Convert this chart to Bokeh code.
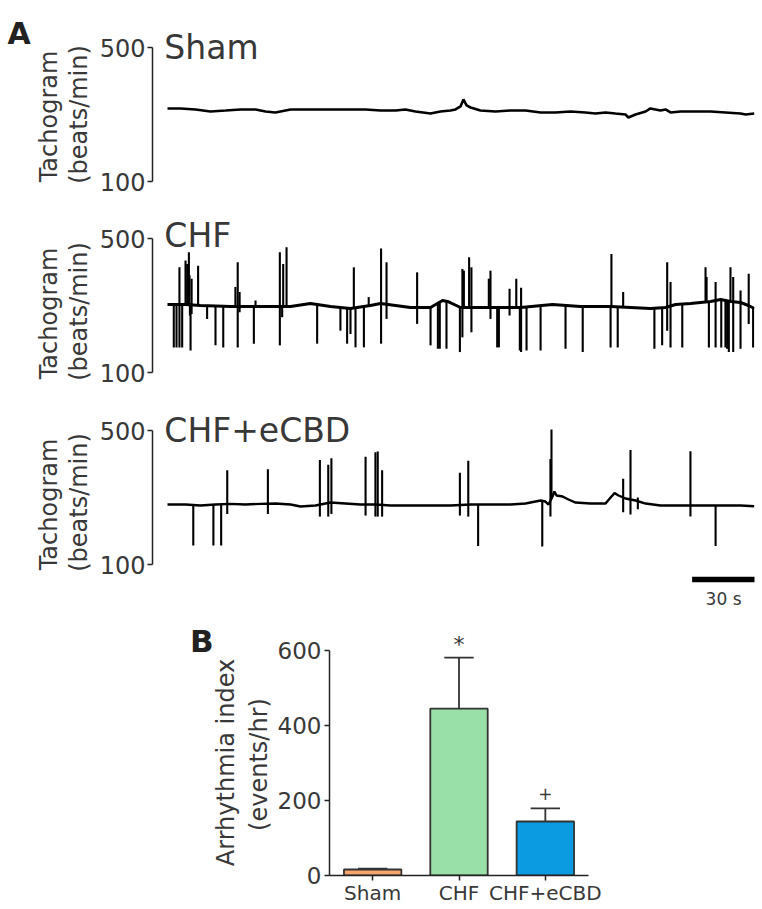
import numpy as np
from bokeh.plotting import figure
from bokeh.layouts import column, row
from bokeh.models import Range1d, FixedTicker
from bokeh.embed import file_html
from bokeh.resources import INLINE
from bokeh.core.properties import value

FONT = "DejaVu Sans"
TXT = "#383838"
AX = "#222222"

# ---------------- data: tachograms (time in s, heart rate in beats/min) ----------------
sham_t = [0, 6.2, 13.4, 20.5, 27.7, 34.8, 42, 46.8, 51.5, 58.7, 65.9, 73, 80.2, 87.3, 94.5,
          101.6, 108.8, 113.5, 118.3, 125.5, 130.2, 135, 137.4, 139.8, 141.2, 142.7, 144.6,
          149.3, 156.5, 163.6, 170.8, 178, 185.1, 192.3, 199.4, 204.2, 209, 213.7, 218.5,
          219.9, 223.3, 228.1, 230.4, 235.2, 237.6, 240, 244.8, 251.9, 259.1, 266.2, 273.4,
          275.8, 280]
sham_v = [318, 318, 315, 309, 312, 315, 315, 309, 306, 315, 315, 315, 315, 315, 315,
          312, 312, 315, 309, 303, 309, 312, 315, 324, 345, 327, 321,
          312, 309, 312, 312, 306, 306, 309, 306, 303, 306, 303, 300,
          291, 300, 309, 318, 312, 315, 306, 309, 309, 309, 306, 303,
          300, 303]

chf_t = [0, 8.6, 15.7, 30.1, 44.4, 58.7, 68.2, 77.8, 87.3, 96.8, 101.6, 108.8, 115.9, 125.5,
         131.2, 133.6, 139.8, 149.3, 158.9, 168.4, 183.7, 197, 211.4, 220.9, 230.4, 237.6,
         242.4, 249.5, 254.3, 259.1, 263.9, 268.6, 273.4, 277.2, 280]
chf_v = [303, 303, 300, 297, 297, 297, 306, 297, 291, 300, 306, 300, 294, 294,
         315, 312, 294, 294, 294, 294, 303, 297, 297, 294, 291, 294,
         303, 306, 309, 312, 318, 312, 309, 300, 291]
chf_spike_t = [3.0, 4.3, 5.7, 5.7, 7.0, 8.6, 9.4, 10.2, 10.5, 10.7, 11.0, 11.5, 11.5, 14.6,
               18.9, 22.9, 26.6, 32.4, 33.5, 33.5, 34.4, 34.4, 41.2, 42.0, 53.6, 53.6, 54.7,
               55.2, 56.8, 71.4, 82.5, 85.7, 87.3, 88.9, 89.7, 93.7, 96.0, 101.9, 101.9,
               104.5, 104.5, 119.1, 119.1, 125.5, 129.0, 129.9, 133.1, 139.5, 140.7, 140.7,
               141.4, 143.9, 145.0, 145.0, 153.3, 154.1, 154.1, 157.3, 158.1, 163.2, 163.2,
               166.4, 168.1, 168.7, 168.7, 171.3, 178.0, 189.9, 198.1, 211.4, 211.8, 214.8,
               217.4, 232.3, 236.0, 238.4, 238.4, 240.0, 240.0, 245.6, 256.7, 257.2, 258.3,
               261.5, 261.5, 264.2, 266.2, 267.0, 267.8, 268.6, 269.9, 269.9, 273.4, 273.4,
               277.3, 277.3, 279.4]
chf_spike_v = [175, 175, 414, 175, 175, 434, 424, 459, 390, 270, 166, 380, 275, 419,
               260, 181, 175, 355, 429, 175, 340, 280, 186, 315, 459, 181, 265,
               424, 474, 186, 225, 186, 215, 414, 175, 175, 325, 470, 186,
               429, 260, 399, 245, 181, 171, 171, 171, 161, 409, 205,
               404, 444, 414, 220, 380, 404, 260, 175, 175, 350, 270,
               380, 166, 353, 161, 166, 166, 171, 161, 175, 454, 175,
               340, 171, 181, 429, 225, 370, 175, 175, 414, 385, 175,
               370, 175, 175, 175, 171, 161, 414, 385, 161, 345, 171,
               395, 245, 175]

ecbd_t = [0, 8.6, 15.7, 22.9, 30.1, 37.2, 44.4, 51.5, 58.7, 63.5, 70.6, 77.8, 84.9, 92.1,
          99.2, 106.4, 115.9, 125.5, 135.0, 144.6, 154.1, 163.6, 170.8, 175.6, 178.0, 180.3,
          181.8, 183.7, 184.6, 185.6, 188.5, 191.3, 194.7, 201.8, 209.0, 211.4, 213.3, 215.2,
          218.5, 223.3, 228.1, 235.2, 244.8, 254.3, 263.9, 273.4, 280.0]
ecbd_v = [279, 279, 276, 279, 281, 279, 281, 282, 279, 273, 276, 285, 282, 279,
          279, 276, 276, 276, 276, 279, 279, 279, 282, 288, 291, 288,
          279, 303, 318, 306, 303, 294, 285, 282, 282, 300, 313, 306,
          297, 291, 282, 276, 276, 276, 276, 276, 274]
ecbd_spike_t = [12.3, 21.9, 25.6, 28.5, 28.5, 47.9, 47.9, 72.7, 72.7, 76.7, 76.7, 78.2, 78.2,
                94.5, 94.5, 99.2, 99.2, 100.3, 100.3, 102.4, 102.4, 139.5, 139.5, 143.5, 143.5,
                148.2, 178.8, 182.7, 182.7, 183.2, 217.4, 217.4, 220.9, 220.9, 224.4, 224.4,
                249.5, 249.5, 261.5]
ecbd_spike_v = [157, 157, 157, 381, 251, 384, 251, 412, 243, 398, 243, 417, 251,
                422, 246, 435, 243, 437, 243, 381, 243, 374, 246, 410, 243,
                155, 154, 415, 243, 503, 356, 256, 442, 249, 300, 265,
                438, 243, 155]

trace_names = ["Sham", "CHF", "CHF+eCBD"]
trace_ylabel = ["Tachogram", "(beats/min)"]
scalebar_seconds = 30
trace_ticks = [100, 500]

# ---------------- data: arrhythmia index ----------------
categories = ["Sham", "CHF", "CHF+eCBD"]
arr_mean = [16, 445, 144]
arr_sem_top = [18, 581, 179]
bar_colors = ["#F8A66E", "#99E0A8", "#0A9BE0"]
bar_marks = ["", "*", "+"]
bar_ticks = [0, 200, 400, 600]
bar_ylabel = ["Arrhythmia index", "(events/hr)"]

PX_PER_BPM = 134 / 400.0
LEFT_W = 95          # strip holding panel letter A and tachogram axis titles
LEFT2_W = 274        # strip holding panel letter B and bar-chart axis title
SPLIT = 610          # page row where the bar-chart part begins


def style_axis(ax, ticks, bounds, tick_size, standoff):
    ax.ticker = FixedTicker(ticks=ticks, minor_ticks=[])
    ax.bounds = bounds
    ax.axis_line_color = AX
    ax.axis_line_width = 1.5
    ax.major_tick_line_color = AX
    ax.major_tick_line_width = 1.5
    ax.major_tick_out = 5
    ax.major_tick_in = 0
    ax.minor_tick_line_color = None
    ax.major_label_text_font = FONT
    ax.major_label_text_font_size = tick_size
    ax.major_label_text_color = TXT
    ax.major_label_standoff = standoff


def blank_fig(w, h, xr, yr, bottom=0):
    p = figure(width=w, height=h, x_range=xr, y_range=yr, output_backend="svg",
               toolbar_location=None, title=None, x_axis_location=None, y_axis_location=None,
               min_border_left=0, min_border_right=0, min_border_top=0,
               min_border_bottom=bottom)
    p.outline_line_color = None
    p.grid.visible = False
    return p


def trace_fig(height, top_px, bottom_px, name, name_y, bt, bv, st, sv, lw):
    y_end = 500 + top_px / PX_PER_BPM
    y_start = 100 - bottom_px / PX_PER_BPM
    p = figure(width=758 - LEFT_W, height=height, x_range=Range1d(-7.157, 280.06),
               y_range=Range1d(y_start, y_end), output_backend="svg", toolbar_location=None,
               title=None, x_axis_location=None, min_border_left=152 - LEFT_W,
               min_border_right=4, min_border_top=0, min_border_bottom=0)
    p.outline_line_color = None
    p.grid.visible = False
    style_axis(p.yaxis[0], trace_ticks, (100, 500), "24px", 2)
    bt = np.asarray(bt, float)
    bv = np.asarray(bv, float)
    p.line(bt, bv, line_color="black", line_width=lw)
    if st:
        st = np.asarray(st, float)
        base = np.interp(st, bt, bv)
        p.segment(x0=st, y0=base, x1=st, y1=sv, line_color="black", line_width=2.1)
    p.text(x=[-1.5], y=[name_y], text=[name], text_font=value(FONT), text_font_size="33px",
           text_color=TXT, text_align="left", text_baseline="alphabetic")
    return p


p1 = trace_fig(199, 47, 18, trace_names[0], 500, sham_t, sham_v, [], [], 2.6)
p2 = trace_fig(191, 39, 18, trace_names[1], 509, chf_t, chf_v, chf_spike_t, chf_spike_v, 3.0)
p3 = trace_fig(SPLIT - 390, 40, SPLIT - 564, trace_names[2], 500, ecbd_t, ecbd_v,
               ecbd_spike_t, ecbd_spike_v, 2.4)
sb_end = 280.3
sb_y = 100 - 15 / PX_PER_BPM
p3.segment(x0=[sb_end - scalebar_seconds], x1=[sb_end], y0=[sb_y], y1=[sb_y],
           line_color="black", line_width=5.5, line_cap="butt")
p3.text(x=[sb_end - scalebar_seconds / 2], y=[100 - 34 / PX_PER_BPM],
        text=["%d s" % scalebar_seconds], text_font=value(FONT), text_font_size="17px",
        text_color=TXT, text_align="center", text_baseline="alphabetic")

# left strip (pixel coordinates of the page)
pl = blank_fig(LEFT_W, SPLIT, Range1d(0, LEFT_W), Range1d(SPLIT, 0))
pl.text(x=[7], y=[33], text=["A"], text_font=value(FONT), text_font_size="30px",
        text_font_style="bold", text_color="#222222", text_align="left",
        text_baseline="alphabetic")
lab_x = [48.5, 78.5] * 3
lab_y = [116, 114, 313, 311, 504, 502]
pl.text(x=lab_x, y=lab_y, text=trace_ylabel * 3, angle=np.pi / 2, text_font=value(FONT),
        text_font_size="24px", text_color=TXT, text_align="center", text_baseline="middle")

# ---------------- bar chart ----------------
PX_PER_UNIT = 225 / 600.0
centers = np.arange(len(categories)) + 0.5
pb = figure(width=758 - LEFT2_W, height=908 - SPLIT, x_range=Range1d(0, len(categories)),
            y_range=Range1d(0, (875 - SPLIT) / PX_PER_UNIT), output_backend="svg",
            toolbar_location=None, title=None, min_border_left=326 - LEFT2_W,
            min_border_right=758 - 588, min_border_top=0, min_border_bottom=33)
pb.outline_line_color = None
pb.grid.visible = False
style_axis(pb.yaxis[0], bar_ticks, (0, 600), "23px", 3)
xa = pb.xaxis[0]
style_axis(xa, list(centers), (0, len(categories)), "20px", 0)
xa.major_label_overrides = {float(c): cat for c, cat in zip(centers, categories)}

cap = 0.17
pb.segment(x0=centers, y0=arr_mean, x1=centers, y1=arr_sem_top, line_color="#333333",
           line_width=1.8)
pb.segment(x0=centers - cap, y0=arr_sem_top, x1=centers + cap, y1=arr_sem_top,
           line_color="#333333", line_width=1.8)
pb.vbar(x=centers, width=0.665, top=arr_mean, bottom=0, fill_color=bar_colors,
        line_color="#333333", line_width=1.8)
pb.text(x=[centers[1]], y=[arr_sem_top[1] + 35], text=[bar_marks[1]],
        text_font=value(FONT), text_font_size="22px", text_color=TXT, text_align="center",
        text_baseline="alphabetic")
pb.text(x=[centers[2]], y=[arr_sem_top[2] + 40], text=[bar_marks[2]],
        text_font=value(FONT), text_font_size="17px", text_color=TXT, text_align="center",
        text_baseline="alphabetic")

pl2 = blank_fig(LEFT2_W, 908 - SPLIT, Range1d(0, LEFT2_W), Range1d(875, SPLIT), bottom=33)
pl2.text(x=[189.5], y=[640], text=["B"], text_font=value(FONT), text_font_size="31px",
         text_font_style="bold", text_color="#222222", text_align="left",
         text_baseline="alphabetic")
pl2.text(x=[225, 258.5], y=[762, 764], text=bar_ylabel, angle=np.pi / 2,
         text_font=value(FONT), text_font_size="24px", text_color=TXT, text_align="center",
         text_baseline="middle")

layout = column(row(pl, column(p1, p2, p3, spacing=0), spacing=0),
                row(pl2, pb, spacing=0), spacing=0)
open("out.html", "w").write(file_html(layout, INLINE))
